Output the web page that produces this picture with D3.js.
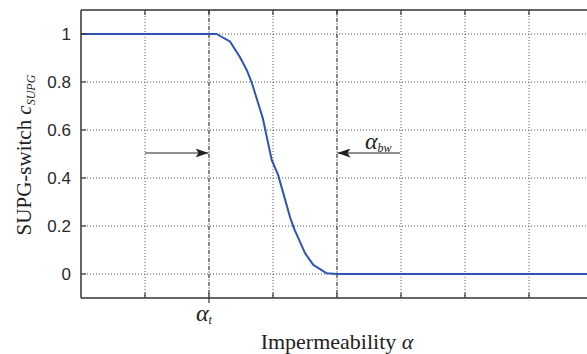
<!DOCTYPE html>
<html>
<head>
<meta charset="utf-8">
<script src="https://cdn.jsdelivr.net/npm/d3@7"></script>
<style>
  html, body { margin: 0; padding: 0; background: #fff; }
  svg { display: block; }
</style>
</head>
<body>
<svg id="chart" width="587" height="354"></svg>
<script>
// SUPG switch as a function of impermeability
const alphaValues = [0, 1, 2.0, 2.12, 2.33, 2.48, 2.59, 2.67, 2.84, 2.98, 3.08, 3.27, 3.34, 3.5, 3.63, 3.84, 4.0, 5, 6, 7, 8];
const switchValues = [1, 1, 1, 1, 0.968, 0.905, 0.85, 0.796, 0.65, 0.475, 0.413, 0.233, 0.183, 0.087, 0.038, 0.003, 0, 0, 0, 0, 0];

const yTicks = [0, 0.2, 0.4, 0.6, 0.8, 1];
const yTickLabels = ["0", "0.2", "0.4", "0.6", "0.8", "1"];
const xGrid = [1, 2, 3, 4, 5, 6, 7];
const alphaT = 2;
const alphaBw = 4;

const svg = d3.select("#chart");
const margin = { left: 81, top: 10, right: 593, bottom: 298 };

const x = d3.scaleLinear().domain([0, 8]).range([margin.left, margin.right]);
const y = d3.scaleLinear().domain([-0.1, 1.1]).range([margin.bottom, margin.top]);

// grid
const grid = svg.append("g");
grid.selectAll("line.hg").data(yTicks).enter().append("line")
  .attr("x1", margin.left).attr("x2", margin.right)
  .attr("y1", d => y(d)).attr("y2", d => y(d))
  .attr("stroke", "#555").attr("stroke-width", 1).attr("stroke-dasharray", "1,2");
grid.selectAll("line.vg").data(xGrid.filter(d => d !== alphaT && d !== alphaBw)).enter().append("line")
  .attr("x1", d => x(d)).attr("x2", d => x(d))
  .attr("y1", margin.top).attr("y2", margin.bottom)
  .attr("stroke", "#555").attr("stroke-width", 1).attr("stroke-dasharray", "1,2");

// marker lines at alpha_t and alpha_bw
grid.selectAll("line.mk").data([alphaT, alphaBw]).enter().append("line")
  .attr("x1", d => x(d)).attr("x2", d => x(d))
  .attr("y1", margin.top).attr("y2", margin.bottom)
  .attr("stroke", "#333").attr("stroke-width", 1.2).attr("stroke-dasharray", "4,1.5,1,1.5");

// curve
const line = d3.line().x((d, i) => x(alphaValues[i])).y(d => y(d));
svg.append("path").datum(switchValues)
  .attr("d", line)
  .attr("fill", "none").attr("stroke", "#2c55b4").attr("stroke-width", 2)
  .attr("stroke-linejoin", "round");

// frame
svg.append("line").attr("x1", margin.left).attr("x2", margin.right)
  .attr("y1", margin.top).attr("y2", margin.top).attr("stroke", "#333").attr("stroke-width", 1.5);
svg.append("line").attr("x1", margin.left).attr("x2", margin.right)
  .attr("y1", margin.bottom).attr("y2", margin.bottom).attr("stroke", "#333").attr("stroke-width", 1.5);
svg.append("line").attr("x1", margin.left).attr("x2", margin.left)
  .attr("y1", margin.top).attr("y2", margin.bottom).attr("stroke", "#333").attr("stroke-width", 1.5);

// inward tick marks
svg.selectAll("line.xt").data(xGrid).enter().append("line")
  .attr("x1", d => x(d)).attr("x2", d => x(d))
  .attr("y1", margin.bottom).attr("y2", margin.bottom - 5)
  .attr("stroke", "#333").attr("stroke-width", 1.2);
svg.selectAll("line.xt2").data(xGrid).enter().append("line")
  .attr("x1", d => x(d)).attr("x2", d => x(d))
  .attr("y1", margin.top).attr("y2", margin.top + 5)
  .attr("stroke", "#333").attr("stroke-width", 1.2);
svg.selectAll("line.yt").data(yTicks).enter().append("line")
  .attr("x1", margin.left).attr("x2", margin.left + 5)
  .attr("y1", d => y(d)).attr("y2", d => y(d))
  .attr("stroke", "#333").attr("stroke-width", 1.2);
// alpha_t tick extending below the axis
svg.append("line").attr("x1", x(alphaT)).attr("x2", x(alphaT))
  .attr("y1", margin.bottom).attr("y2", margin.bottom + 5)
  .attr("stroke", "#333").attr("stroke-width", 1.2);

// y tick labels
svg.selectAll("text.yl").data(yTicks).enter().append("text")
  .attr("x", 71).attr("y", d => y(d)).attr("dy", "0.36em")
  .attr("text-anchor", "end")
  .attr("font-family", "Liberation Sans, Arial, sans-serif").attr("font-size", 17)
  .attr("fill", "#2a2a2a")
  .text((d, i) => yTickLabels[i]);

// arrows
const defs = svg.append("defs");
defs.append("marker").attr("id", "ah").attr("viewBox", "0 0 13 9")
  .attr("refX", 13).attr("refY", 4.5).attr("markerWidth", 13).attr("markerHeight", 9)
  .attr("markerUnits", "userSpaceOnUse").attr("orient", "auto")
  .append("path").attr("d", "M0,0 L13,4.5 L0,9 L3,4.5 Z").attr("fill", "#222");

const arrowY = 153;
svg.append("line").attr("x1", x(1)).attr("x2", x(alphaT) - 0.5)
  .attr("y1", arrowY).attr("y2", arrowY)
  .attr("stroke", "#222").attr("stroke-width", 1.2).attr("marker-end", "url(#ah)");
svg.append("line").attr("x1", x(5) - 1).attr("x2", x(alphaBw) + 0.5)
  .attr("y1", arrowY).attr("y2", arrowY)
  .attr("stroke", "#222").attr("stroke-width", 1.2).attr("marker-end", "url(#ah)");

const serif = "Liberation Serif, Times New Roman, serif";
// alpha_bw label
const lbw = svg.append("text").attr("x", 365).attr("y", 149)
  .attr("font-family", serif).attr("font-style", "italic").attr("font-size", 24).attr("fill", "#222");
lbw.append("tspan").text("α");
lbw.append("tspan").attr("font-size", 12).attr("dy", 3).text("bw");

// alpha_t label
const lt = svg.append("text").attr("x", 196).attr("y", 321)
  .attr("font-family", serif).attr("font-style", "italic").attr("font-size", 24).attr("fill", "#222");
lt.append("tspan").text("α");
lt.append("tspan").attr("font-size", 12).attr("dy", 3).text("t");

// x axis title
const xt = svg.append("text").attr("x", 337).attr("y", 349).attr("text-anchor", "middle")
  .attr("font-family", serif).attr("font-size", 22).attr("fill", "#222");
xt.append("tspan").text("Impermeability ");
xt.append("tspan").attr("font-style", "italic").text("α");

// y axis title
const yt = svg.append("text").attr("transform", "translate(31,155) rotate(-90)")
  .attr("text-anchor", "middle")
  .attr("font-family", serif).attr("font-size", 21).attr("fill", "#222");
yt.append("tspan").text("SUPG-switch ");
yt.append("tspan").attr("font-style", "italic").text("c");
yt.append("tspan").attr("font-style", "italic").attr("font-size", 12).attr("dy", 4).text("SUPG");
</script>
</body>
</html>
